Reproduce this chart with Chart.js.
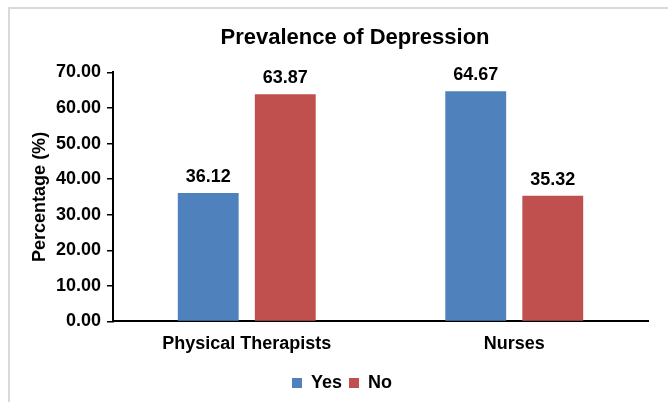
<!DOCTYPE html>
<html>
<head>
<meta charset="utf-8">
<script src="https://cdn.jsdelivr.net/npm/chart.js@4/dist/chart.umd.min.js"></script>
<style>
  body { margin: 0; background: #fff; }
  #wrap {
    position: absolute; left: 8px; top: 7px;
    width: 658px; height: 393px;
    border-top: 2px solid #d9d9d9; border-left: 2px solid #d9d9d9;
  }
</style>
</head>
<body>
<div id="wrap"><canvas id="chart" width="658" height="393"></canvas></div>
<script>
const categories = ['Physical Therapists', 'Nurses'];
const yesValues = [36.12, 64.67];
const noValues = [63.87, 35.32];
const seriesNames = ['Yes', 'No'];

const FONT = '"Liberation Sans", Arial, sans-serif';
Chart.defaults.font.family = FONT;
Chart.defaults.color = '#000';

// value labels above each bar
const valueLabels = {
  id: 'valueLabels',
  afterDatasetsDraw(chart) {
    const ctx = chart.ctx;
    ctx.save();
    ctx.font = 'bold 18px ' + FONT;
    ctx.fillStyle = '#000';
    ctx.textAlign = 'center';
    ctx.textBaseline = 'alphabetic';
    chart.data.datasets.forEach((ds, i) => {
      chart.getDatasetMeta(i).data.forEach((bar, j) => {
        ctx.fillText(ds.data[j].toFixed(2), bar.x, bar.y - 11);
      });
    });
    ctx.restore();
  }
};

// the original centres title and legend a bit right of the canvas middle
const nudgeBlocks = {
  id: 'nudgeBlocks',
  afterLayout(chart) {
    chart.titleBlock.left += 52;
    chart.legend.left += 26;
  }
};

new Chart(document.getElementById('chart'), {
  type: 'bar',
  data: {
    labels: categories,
    datasets: [
      { label: seriesNames[0], data: yesValues, backgroundColor: '#4f81bd' },
      { label: seriesNames[1], data: noValues, backgroundColor: '#c0504d' }
    ]
  },
  options: {
    responsive: false,
    animation: false,
    barPercentage: 0.79,
    categoryPercentage: 0.576,
    layout: { padding: { left: 0, right: 20, top: 0, bottom: 0 } },
    plugins: {
      title: {
        display: true,
        text: 'Prevalence of Depression',
        font: { size: 22, weight: 'bold' },
        padding: { top: 16, bottom: 21 }
      },
      legend: {
        position: 'bottom',
        labels: { boxWidth: 10, boxHeight: 10, padding: 7, font: { size: 18, weight: 'bold' } }
      },
      tooltip: { enabled: false }
    },
    scales: {
      x: {
        grid: { display: false, drawTicks: false },
        border: { display: true, color: '#000', width: 2 },
        ticks: { font: { size: 18, weight: 'bold' }, padding: 12 }
      },
      y: {
        min: 0, max: 70,
        ticks: { stepSize: 10, padding: 6, font: { size: 18, weight: 'bold' },
                 callback: v => v.toFixed(2) },
        grid: { drawOnChartArea: false, drawTicks: true, tickLength: 6, color: '#000', lineWidth: 1.5 },
        border: { display: true, color: '#000', width: 2 },
        title: { display: true, text: 'Percentage (%)', font: { size: 18, weight: 'bold' },
                 padding: { top: 19, bottom: 0 } },
        afterFit(scale) { scale.width = 103; }
      }
    }
  },
  plugins: [valueLabels, nudgeBlocks]
});
</script>
</body>
</html>
